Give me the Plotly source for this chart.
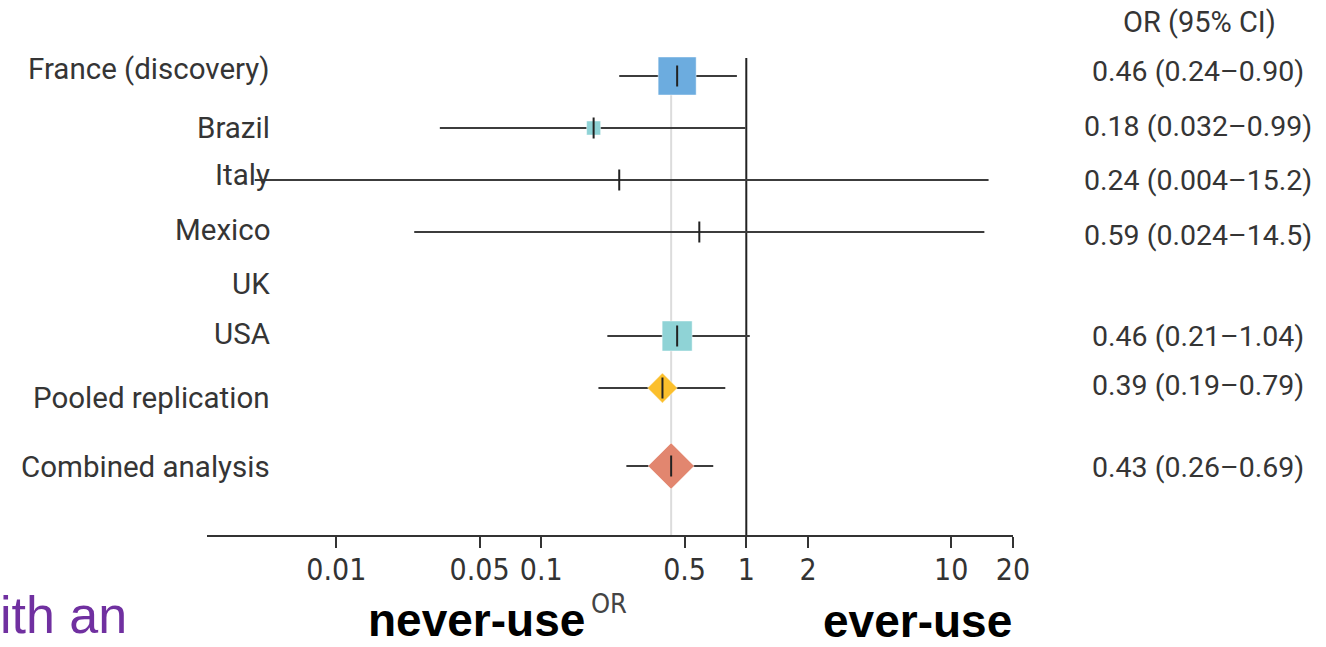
import plotly.graph_objects as go

# ---- data -----------------------------------------------------------------
studies = ["France (discovery)", "Brazil", "Italy", "Mexico", "UK", "USA",
           "Pooled replication", "Combined analysis"]
odds_ratio = [0.46, 0.18, 0.24, 0.59, None, 0.46, 0.39, 0.43]
ci_low = [0.24, 0.032, 0.004, 0.024, None, 0.21, 0.19, 0.26]
ci_high = [0.90, 0.99, 15.2, 14.5, None, 1.04, 0.79, 0.69]
ci_text = ["0.46 (0.24–0.90)", "0.18 (0.032–0.99)", "0.24 (0.004–15.2)",
           "0.59 (0.024–14.5)", "", "0.46 (0.21–1.04)", "0.39 (0.19–0.79)",
           "0.43 (0.26–0.69)"]
tick_values = [0.01, 0.05, 0.1, 0.5, 1, 2, 10, 20]
tick_labels = ["0.01", "0.05", "0.1", "0.5", "1", "2", "10", "20"]

# ---- layout constants -----------------------------------------------------
W, H = 1326, 647
ML, MR, MT, MB = 207, 313, 0, 112
PW, PH = W - ML - MR, H - MT - MB
ROW_STEP = 52.0          # px between study rows
ROW0_PX = 76.0           # px of first row
row_pos = [0, 1, 2, 3, 4, 5, 6, 7.5]
y_top = -ROW0_PX / ROW_STEP
y_bot = (PH - ROW0_PX) / ROW_STEP
x_lo_log = 1.30103 - PW / 205.0


def px_x(x):
    return (x - ML) / PW


def px_y(y):
    return (PH - (y - MT)) / PH


def row_to_y(py):
    return (py - ROW0_PX) / ROW_STEP


# marker style per row: (symbol, size, colour)
marker_style = [
    ("square", 38, "#6cacdf"),
    ("square", 14, "#8fd3d6"),
    (None, 0, None),
    (None, 0, None),
    (None, 0, None),
    ("square", 30, "#8fd3d6"),
    ("diamond", 23, "#fbbf2c"),
    ("diamond", 35.5, "#e2866f"),
]

LABEL_FONT = "Roboto, 'Noto Sans', sans-serif"
NARROW_FONT = "'Liberation Sans Narrow', 'DejaVu Sans Condensed', Roboto, sans-serif"
ARIAL_FONT = "'Liberation Sans', Arial, sans-serif"
TEXT_COL = "#353535"

fig = go.Figure()

# confidence interval whiskers
wx, wy = [], []
for r, lo, hi in zip(row_pos, ci_low, ci_high):
    if lo is None:
        continue
    wx += [lo, hi, None]
    wy += [r, r, None]
fig.add_trace(go.Scatter(x=wx, y=wy, mode="lines",
                         line=dict(color="#3c3c3c", width=2),
                         hoverinfo="skip", showlegend=False))

# study boxes / pooled diamonds
for r, orv, (sym, size, col) in zip(row_pos, odds_ratio, marker_style):
    if orv is None or sym is None:
        continue
    fig.add_trace(go.Scatter(
        x=[orv], y=[r], mode="markers",
        marker=dict(symbol=sym, size=size, color=col,
                    line=dict(color="rgba(255,255,255,0.45)", width=1)),
        hoverinfo="skip", showlegend=False))

# point-estimate ticks
pts = [(o, r) for o, r in zip(odds_ratio, row_pos) if o is not None]
fig.add_trace(go.Scatter(
    x=[p[0] for p in pts], y=[p[1] for p in pts], mode="markers",
    marker=dict(symbol="line-ns", size=15,
                line=dict(color="#222222", width=2)),
    hoverinfo="skip", showlegend=False))

# reference lines: combined estimate (grey) and no effect (black)
combined_or = odds_ratio[-1]
fig.add_shape(type="line", xref="x", yref="y", layer="below",
              x0=combined_or, x1=combined_or,
              y0=row_to_y(57), y1=y_bot,
              line=dict(color="#dcdcdc", width=2))
fig.add_shape(type="line", xref="x", yref="y", layer="below",
              x0=1, x1=1, y0=row_to_y(58), y1=y_bot,
              line=dict(color="#222222", width=2))

annotations = []
# study names
label_px = [69, 128, 175, 230, 284, 334, 398, 467]
for name, py in zip(studies, label_px):
    annotations.append(dict(text=name, xref="paper", yref="paper",
                            x=px_x(272), y=px_y(py), xanchor="right",
                            yanchor="middle", showarrow=False,
                            font=dict(family=LABEL_FONT, size=29.5,
                                      color=TEXT_COL)))
# OR (95% CI) column
annotations.append(dict(text="OR (95% CI)", xref="paper", yref="paper",
                        x=px_x(1199), y=px_y(22), xanchor="center",
                        yanchor="middle", showarrow=False,
                        font=dict(family=LABEL_FONT, size=29, color=TEXT_COL)))
ci_px = [72, 127, 181, 236, 284, 336, 385, 467]
for txt, py in zip(ci_text, ci_px):
    if not txt:
        continue
    annotations.append(dict(text=txt, xref="paper", yref="paper",
                            x=px_x(1198), y=px_y(py), xanchor="center",
                            yanchor="middle", showarrow=False,
                            font=dict(family=LABEL_FONT, size=28.5,
                                      color=TEXT_COL)))
# direction captions
annotations.append(dict(text="<b>never-use</b>", xref="paper", yref="paper",
                        x=px_x(366), y=px_y(620), xanchor="left",
                        yanchor="middle", showarrow=False,
                        font=dict(family=ARIAL_FONT, size=46, color="#000000")))
annotations.append(dict(text="OR", xref="paper", yref="paper",
                        x=px_x(609), y=px_y(603), xanchor="center",
                        yanchor="middle", showarrow=False,
                        font=dict(family=NARROW_FONT, size=27,
                                  color="#444444")))
annotations.append(dict(text="<b>ever-use</b>", xref="paper", yref="paper",
                        x=px_x(821), y=px_y(621), xanchor="left",
                        yanchor="middle", showarrow=False,
                        font=dict(family=ARIAL_FONT, size=46, color="#000000")))
annotations.append(dict(text="ith an", xref="paper", yref="paper",
                        x=px_x(-2), y=px_y(615), xanchor="left",
                        yanchor="middle", showarrow=False,
                        font=dict(family=ARIAL_FONT, size=52, color="#7030a0")))

fig.update_layout(
    width=W, height=H,
    margin=dict(l=ML, r=MR, t=MT, b=MB, pad=0),
    paper_bgcolor="white", plot_bgcolor="white",
    showlegend=False,
    annotations=annotations,
    xaxis=dict(type="log", range=[x_lo_log, 1.30103],
               tickvals=tick_values, ticktext=tick_labels,
               ticks="outside", ticklen=11, tickwidth=2, tickcolor="#333333",
               ticklabelstandoff=-4,
               showline=True, linecolor="#333333", linewidth=2,
               showgrid=False, zeroline=False,
               tickfont=dict(family=NARROW_FONT, size=30, color="#333333")),
    yaxis=dict(range=[y_bot, y_top], visible=False, showgrid=False,
               zeroline=False),
)

fig.write_html("out.html")
